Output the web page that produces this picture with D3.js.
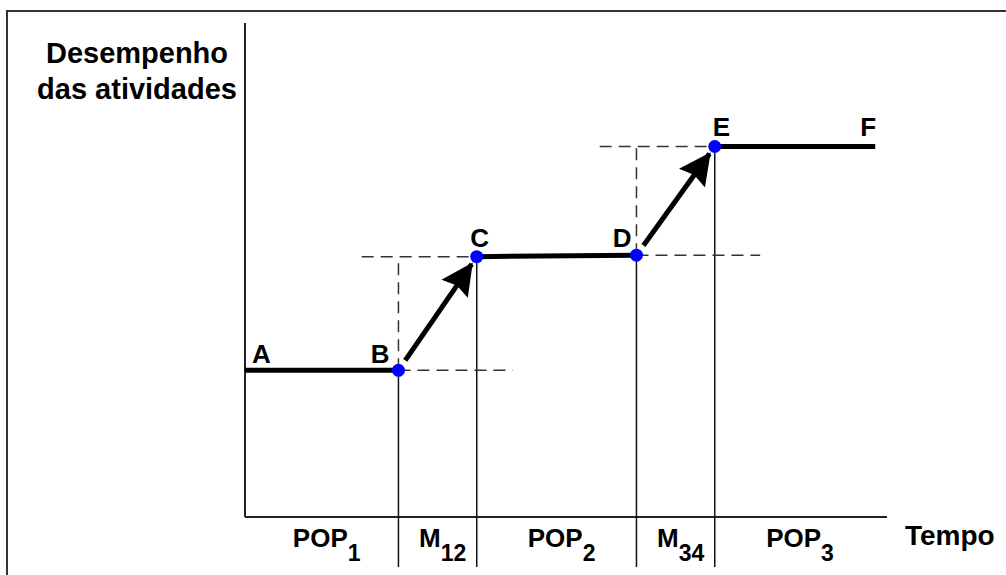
<!DOCTYPE html>
<html>
<head>
<meta charset="utf-8">
<script src="https://cdn.jsdelivr.net/npm/d3@7"></script>
<style>
  body { margin: 0; background: #fff; }
  text { font-family: "Liberation Sans", Arial, sans-serif; font-weight: bold; fill: #000; }
</style>
</head>
<body>
<script>
const w = 1006; // width
const h = 575;  // height

// points of the curve: time and performance level
const pointNames = ["A", "B", "C", "D", "E", "F"];
const pointTime  = [0, 1.96, 2.96, 5.0, 6.0, 8.05];
const pointLevel = [2.97, 2.97, 5.27, 5.3, 7.5, 7.5];

// phases on the time axis
const phaseNames = ["POP", "M", "POP", "M", "POP"];
const phaseSubs  = ["1", "12", "2", "34", "3"];

// dashed guide lines (time from, time to, level)
const guideH = [[1.96, 3.42, 2.97], [1.49, 2.96, 5.27], [5.0, 6.58, 5.3], [4.53, 6.0, 7.5]];

let svg = d3.select("body")
    .append("svg")
    .attr("width", w)
    .attr("height", h);

// scales
let x = d3.scaleLinear().domain([0, 8.2]).range([245, 887]);
let y = d3.scaleLinear().domain([0, 10]).range([517, 23]);

let pts = pointNames.map((n, i) => ({ name: n, t: pointTime[i], v: pointLevel[i] }));

// outer frame
svg.append("rect")
    .attr("x", 7).attr("y", 11)
    .attr("width", 1200).attr("height", 1000)
    .attr("fill", "none")
    .attr("stroke", "#333")
    .attr("stroke-width", 2);

// axes
svg.append("line")
    .attr("x1", x(0)).attr("x2", x(0))
    .attr("y1", y(10)).attr("y2", y(0))
    .attr("stroke", "#222").attr("stroke-width", 2);
svg.append("line")
    .attr("x1", x(0)).attr("x2", x(8.2))
    .attr("y1", y(0)).attr("y2", y(0))
    .attr("stroke", "#222").attr("stroke-width", 2);

// vertical phase separators
svg.selectAll(".sep")
    .data(pts.slice(1, 5))
    .enter()
    .append("line")
    .attr("class", "sep")
    .attr("x1", d => x(d.t)).attr("x2", d => x(d.t))
    .attr("y1", d => y(d.v)).attr("y2", y(0) + 50)
    .attr("stroke", "#111").attr("stroke-width", 1.5);

// dashed guides
svg.selectAll(".gh")
    .data(guideH)
    .enter()
    .append("line")
    .attr("class", "gh")
    .attr("x1", d => x(d[0])).attr("x2", d => x(d[1]))
    .attr("y1", d => y(d[2])).attr("y2", d => y(d[2]))
    .attr("stroke", "#333").attr("stroke-width", 1.5)
    .attr("stroke-dasharray", "12,7");

// vertical dashed guides at B and D
svg.selectAll(".gv")
    .data([[pts[1], pts[2]], [pts[3], pts[4]]])
    .enter()
    .append("line")
    .attr("class", "gv")
    .attr("x1", d => x(d[0].t)).attr("x2", d => x(d[0].t))
    .attr("y1", d => y(d[0].v)).attr("y2", d => y(d[1].v))
    .attr("stroke", "#333").attr("stroke-width", 1.5)
    .attr("stroke-dasharray", "12,7");

// heavy flat segments
svg.selectAll(".seg")
    .data([[pts[0], pts[1]], [pts[2], pts[3]], [pts[4], pts[5]]])
    .enter()
    .append("line")
    .attr("class", "seg")
    .attr("x1", d => x(d[0].t)).attr("x2", d => x(d[1].t))
    .attr("y1", d => y(d[0].v)).attr("y2", d => y(d[1].v))
    .attr("stroke", "#000").attr("stroke-width", 5);

// arrow head
svg.append("defs").append("marker")
    .attr("id", "head")
    .attr("markerUnits", "userSpaceOnUse")
    .attr("viewBox", "0 -17 32 34")
    .attr("refX", 30).attr("refY", 0)
    .attr("markerWidth", 32).attr("markerHeight", 34)
    .attr("orient", "auto")
    .append("path")
    .attr("d", "M0,-16L32,0L0,16L4,0Z")
    .attr("fill", "#000");

// arrows B->C and D->E
svg.selectAll(".arrow")
    .data([[pts[1], pts[2]], [pts[3], pts[4]]])
    .enter()
    .append("line")
    .attr("class", "arrow")
    .each(function (d) {
        let x0 = x(d[0].t), y0 = y(d[0].v), x1 = x(d[1].t), y1 = y(d[1].v);
        let len = Math.hypot(x1 - x0, y1 - y0);
        let ux = (x1 - x0) / len, uy = (y1 - y0) / len;
        d3.select(this)
            .attr("x1", x0 + ux * 12).attr("y1", y0 + uy * 12)
            .attr("x2", x1 - ux * 9).attr("y2", y1 - uy * 9);
    })
    .attr("stroke", "#000").attr("stroke-width", 5)
    .attr("marker-end", "url(#head)");

// blue dots
svg.selectAll(".dot")
    .data(pts.slice(1, 5))
    .enter()
    .append("circle")
    .attr("class", "dot")
    .attr("cx", d => x(d.t)).attr("cy", d => y(d.v))
    .attr("r", 6.5)
    .attr("fill", "#0000ff");

// point labels
const labelOffset = {
    A: [7, -7, "start"], B: [-9, -7, "end"], C: [3, -10, "middle"],
    D: [-5, -8, "end"], E: [-2, -11, "start"], F: [1, -11, "end"]
};
svg.selectAll(".plabel")
    .data(pts)
    .enter()
    .append("text")
    .attr("class", "plabel")
    .attr("x", d => x(d.t) + labelOffset[d.name][0])
    .attr("y", d => y(d.v) + labelOffset[d.name][1])
    .attr("text-anchor", d => labelOffset[d.name][2])
    .style("font-size", "26px")
    .text(d => d.name);

// phase labels
let bounds = pointTime.slice(0, 6);
let phase = svg.selectAll(".phase")
    .data(phaseNames)
    .enter()
    .append("text")
    .attr("class", "phase")
    .attr("x", (d, i) => (x(bounds[i]) + x(bounds[i + 1])) / 2 + 5)
    .attr("y", 547)
    .attr("text-anchor", "middle")
    .style("font-size", "26px");
phase.append("tspan").text(d => d);
phase.append("tspan")
    .attr("dy", 14)
    .style("font-size", "23px")
    .text((d, i) => phaseSubs[i]);

// axis titles
svg.append("text")
    .attr("x", 137).attr("y", 63)
    .attr("text-anchor", "middle")
    .style("font-size", "29px")
    .text("Desempenho");
svg.append("text")
    .attr("x", 137).attr("y", 99)
    .attr("text-anchor", "middle")
    .style("font-size", "29px")
    .text("das atividades");

svg.append("text")
    .attr("x", 905).attr("y", 545)
    .style("font-size", "28px")
    .text("Tempo");
</script>
</body>
</html>
